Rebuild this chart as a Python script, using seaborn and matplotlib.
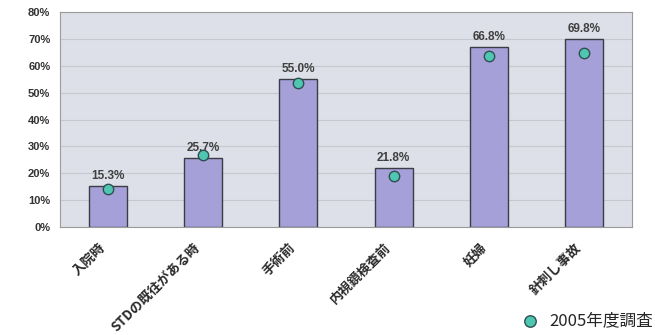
import matplotlib
matplotlib.use("Agg")
import matplotlib.pyplot as plt
from matplotlib.transforms import ScaledTranslation
import seaborn as sns
import pandas as pd

categories = ["入院時", "STDの既往がある時", "手術前", "内視鏡検査前", "妊婦", "針刺し事故"]
values_bar = [15.3, 25.7, 55.0, 21.8, 66.8, 69.8]
values_2005 = [14.1, 26.8, 53.5, 19.0, 63.5, 64.8]
yticks = [0, 10, 20, 30, 40, 50, 60, 70, 80]
legend_label = "2005年度調査"

sns.set_theme(style="white")
plt.rcParams["font.family"] = ["Noto Sans CJK JP", "DejaVu Sans"]

df = pd.DataFrame({"cat": categories, "bar": values_bar, "y2005": values_2005})

fig = plt.figure(figsize=(6.55, 3.35), dpi=100)
ax = fig.add_axes([60/655, (335-227)/335, (632-60)/655, (227-12)/335])
ax.set_facecolor("#dde0e8")

sns.barplot(data=df, x="cat", y="bar", ax=ax, color="#a6a0d8", width=0.4,
            edgecolor="#3c3c44", linewidth=1.0, saturation=1, zorder=3)
sns.stripplot(data=df, x="cat", y="y2005", ax=ax, jitter=False, color="#4fc6b2",
              size=7.5, edgecolor="#2f4f4f", linewidth=1.0, zorder=4, label=legend_label)

for i, v in enumerate(values_bar):
    ax.text(i, v + 1.6, f"{v:.1f}%", ha="center", va="bottom", fontsize=8.5,
            fontweight="bold", color="#404040", family=["Liberation Sans"])

ax.set_ylim(0, 80)
ax.set_xlim(-0.5, 5.5)
ax.set_yticks(yticks)
ax.set_yticklabels([f"{t}%" for t in yticks], fontsize=8, fontweight="bold", color="#333333",
                   family=["Liberation Sans"])
ax.yaxis.grid(True, color="#c6c8ce", linewidth=0.8, zorder=0)
ax.set_axisbelow(True)
ax.set_xlabel("")
ax.set_ylabel("")
ax.tick_params(axis="x", length=0, pad=13)
ax.tick_params(axis="y", length=0, pad=7)
plt.setp(ax.get_xticklabels(), rotation=45, ha="right", va="center", rotation_mode="anchor",
         fontsize=9.5, fontweight="bold", color="#2a2a2a")
offset = ScaledTranslation(-5/100, 0, fig.dpi_scale_trans)
for lab in ax.get_xticklabels():
    lab.set_transform(lab.get_transform() + offset)
for s in ax.spines.values():
    s.set_color("#9a9a9a")
    s.set_linewidth(0.8)

handles, labels = ax.get_legend_handles_labels()
ax.legend(handles[:1], labels[:1], loc="center right", bbox_to_anchor=(653/655, 1 - 321/335),
          bbox_transform=fig.transFigure, frameon=False, fontsize=12,
          handletextpad=0.15, borderaxespad=0.0, borderpad=0.0, markerscale=1.1)

fig.savefig("out.png", dpi=100)
